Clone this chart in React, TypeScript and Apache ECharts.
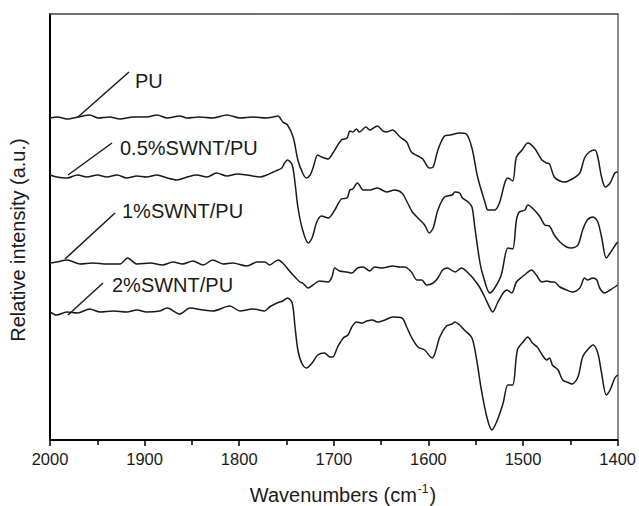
import React, { useEffect, useRef } from "react";
import * as echarts from "echarts";

// FTIR spectra, [wavenumber (cm-1), relative intensity (a.u.)]
const puSpectrum: [number, number][] = [
  [2000, 322], [1992, 323], [1982, 321], [1970, 323], [1958, 325], [1949, 322], [1937, 323],
  [1926, 321], [1912, 323], [1898, 323], [1887, 325], [1876, 322], [1863, 324], [1855, 322],
  [1842, 323], [1828, 322], [1813, 325], [1799, 322], [1786, 323], [1771, 322], [1764, 323],
  [1759, 324], [1754, 318], [1749, 315], [1743, 303], [1738, 280], [1733, 267], [1729, 262],
  [1725, 265], [1722, 272], [1717, 285], [1713, 283], [1706, 281], [1701, 287], [1692, 300],
  [1686, 302], [1683, 309], [1680, 308], [1676, 311], [1673, 308], [1666, 313], [1662, 310],
  [1654, 314], [1648, 309], [1644, 308], [1638, 310], [1630, 303], [1623, 298], [1618, 288],
  [1611, 284], [1606, 281], [1599, 272], [1595, 273], [1590, 290], [1583, 304], [1577, 305],
  [1567, 307], [1560, 306], [1554, 292], [1548, 263], [1540, 237], [1537, 230], [1530, 230],
  [1525, 237], [1519, 258], [1516, 262], [1511, 259], [1507, 283], [1501, 290], [1495, 297],
  [1488, 292], [1480, 280], [1475, 277], [1472, 276], [1467, 263], [1461, 259], [1456, 258],
  [1448, 261], [1440, 267], [1435, 282], [1430, 288], [1424, 290], [1421, 283], [1417, 263],
  [1413, 253], [1408, 257], [1403, 267], [1400, 268],
];

const swnt05Spectrum: [number, number][] = [
  [2000, 265], [1993, 263], [1982, 262], [1971, 265], [1961, 263], [1950, 265], [1940, 263],
  [1929, 265], [1919, 262], [1908, 264], [1898, 263], [1887, 265], [1876, 262], [1866, 260],
  [1855, 263], [1845, 265], [1834, 263], [1824, 267], [1813, 264], [1802, 266], [1792, 265],
  [1778, 263], [1771, 265], [1764, 268], [1759, 270], [1755, 272], [1752, 277], [1749, 280],
  [1744, 275], [1741, 257], [1738, 233], [1733, 210], [1727, 197], [1723, 202], [1718, 218],
  [1713, 224], [1706, 222], [1699, 230], [1692, 241], [1686, 242], [1683, 250], [1680, 251],
  [1675, 257], [1669, 250], [1662, 250], [1654, 252], [1644, 248], [1636, 250], [1628, 247],
  [1622, 237], [1617, 228], [1609, 220], [1604, 215], [1599, 207], [1595, 212], [1590, 230],
  [1583, 243], [1575, 245], [1572, 248], [1567, 247], [1564, 242], [1558, 238], [1554, 233],
  [1551, 213], [1546, 180], [1543, 167], [1535, 147], [1530, 152], [1523, 165], [1516, 192],
  [1511, 191], [1507, 220], [1504, 228], [1498, 230], [1495, 235], [1488, 230], [1482, 223],
  [1477, 215], [1472, 214], [1467, 205], [1461, 198], [1454, 193], [1449, 192], [1442, 195],
  [1437, 210], [1432, 220], [1426, 223], [1421, 218], [1417, 203], [1412, 182], [1408, 187],
  [1401, 197], [1400, 198],
];

const swnt1Spectrum: [number, number][] = [
  [2000, 177], [1993, 178], [1982, 180], [1968, 176], [1955, 177], [1940, 176], [1926, 176],
  [1918, 182], [1908, 176], [1894, 177], [1881, 175], [1870, 178], [1860, 176], [1849, 179],
  [1838, 175], [1828, 180], [1817, 176], [1807, 177], [1792, 174], [1781, 178], [1773, 178],
  [1768, 175], [1759, 180], [1754, 177], [1746, 168], [1741, 163], [1736, 158], [1733, 157],
  [1727, 152], [1722, 155], [1715, 159], [1706, 158], [1702, 163], [1699, 172], [1694, 169],
  [1686, 168], [1681, 167], [1675, 172], [1669, 173], [1662, 169], [1657, 173], [1649, 172],
  [1638, 174], [1630, 173], [1625, 173], [1618, 168], [1612, 160], [1607, 160], [1602, 155],
  [1595, 157], [1590, 162], [1585, 170], [1580, 172], [1572, 168], [1565, 172], [1558, 167],
  [1553, 162], [1546, 153], [1540, 142], [1535, 132], [1532, 128], [1527, 137], [1521, 147],
  [1517, 150], [1512, 147], [1507, 158], [1501, 163], [1496, 167], [1491, 170], [1486, 165],
  [1480, 158], [1475, 159], [1470, 158], [1467, 158], [1461, 153], [1454, 150], [1448, 148],
  [1440, 152], [1435, 162], [1432, 160], [1426, 162], [1422, 160], [1419, 152], [1414, 147],
  [1408, 150], [1400, 155],
];

const swnt2Spectrum: [number, number][] = [
  [2000, 128], [1993, 125], [1982, 128], [1971, 127], [1958, 131], [1947, 128], [1933, 129],
  [1919, 128], [1908, 130], [1898, 128], [1884, 129], [1876, 132], [1863, 126], [1852, 132],
  [1838, 130], [1828, 129], [1810, 134], [1799, 129], [1786, 131], [1773, 129], [1768, 133],
  [1760, 137], [1754, 139], [1749, 142], [1744, 137], [1741, 113], [1738, 90], [1734, 77],
  [1729, 72], [1723, 77], [1717, 85], [1710, 87], [1704, 83], [1701, 83], [1696, 93],
  [1690, 102], [1685, 105], [1681, 113], [1676, 118], [1670, 117], [1665, 119], [1659, 120],
  [1654, 118], [1646, 120], [1638, 123], [1628, 122], [1623, 113], [1618, 103], [1611, 93],
  [1604, 90], [1596, 82], [1593, 87], [1588, 103], [1581, 114], [1575, 116], [1572, 118],
  [1567, 115], [1562, 110], [1554, 102], [1549, 80], [1544, 50], [1538, 22], [1533, 10],
  [1528, 18], [1521, 37], [1516, 55], [1511, 55], [1506, 90], [1500, 98], [1495, 103],
  [1490, 97], [1485, 93], [1479, 84], [1475, 80], [1472, 82], [1469, 75], [1463, 70],
  [1458, 60], [1451, 57], [1448, 56], [1442, 63], [1437, 83], [1432, 90], [1426, 95],
  [1421, 87], [1417, 67], [1412, 45], [1408, 50], [1403, 62], [1400, 65],
];

const seriesNames = ["PU", "0.5%SWNT/PU", "1%SWNT/PU", "2%SWNT/PU"];
const spectra = [puSpectrum, swnt05Spectrum, swnt1Spectrum, swnt2Spectrum];

const FONT = "'Liberation Sans', Arial, Helvetica, sans-serif";
const INK = "#1a1a1a";

// Leader line + caption for each spectrum
const captions = [
  { line: [78, 117, 129, 72], x: 135, y: 81 },
  { line: [68, 175, 112, 143], x: 120, y: 148 },
  { line: [65, 259, 115, 213], x: 122, y: 211 },
  { line: [68, 315, 103, 283], x: 112, y: 285 },
];

export default function App() {
  const ref = useRef<HTMLDivElement>(null);

  useEffect(() => {
    if (!ref.current) return;
    const chart = echarts.init(ref.current, null, { renderer: "svg" });

    const graphics: any[] = [];
    captions.forEach((c, i) => {
      graphics.push({
        type: "line",
        shape: { x1: c.line[0], y1: c.line[1], x2: c.line[2], y2: c.line[3] },
        style: { stroke: INK, lineWidth: 1.5 },
        silent: true,
      });
      graphics.push({
        type: "text",
        x: c.x,
        y: c.y,
        style: {
          text: seriesNames[i],
          fontFamily: FONT,
          fontSize: 20,
          fill: INK,
          verticalAlign: "middle",
        },
        silent: true,
      });
    });
    // y-axis title
    graphics.push({
      type: "text",
      x: 18,
      y: 240,
      rotation: Math.PI / 2,
      style: {
        text: "Relative intensity (a.u.)",
        fontFamily: FONT,
        fontSize: 20,
        fill: INK,
        align: "center",
        verticalAlign: "middle",
      },
      silent: true,
    });
    // x-axis title with superscript
    graphics.push({
      type: "text",
      x: 343,
      y: 494,
      style: {
        text: "{a|Wavenumbers (cm}{s|-1}{a|)}",
        align: "center",
        verticalAlign: "middle",
        rich: {
          a: { fontFamily: FONT, fontSize: 20, fill: INK, color: INK, verticalAlign: "bottom" },
          s: {
            fontFamily: FONT,
            fontSize: 12,
            fill: INK,
            color: INK,
            verticalAlign: "top",
            padding: [0, 1, 10, 1],
          },
        },
      },
      silent: true,
    });

    chart.setOption({
      animation: false,
      backgroundColor: "#ffffff",
      grid: { left: 50, right: 21, top: 14, bottom: 66, containLabel: false },
      xAxis: [
        {
          type: "value",
          min: 1400,
          max: 2000,
          interval: 100,
          inverse: true,
          position: "bottom",
          axisLine: { show: true, onZero: false, lineStyle: { color: "#000", width: 2 } },
          axisTick: { show: true, inside: false, length: 6, lineStyle: { color: "#000", width: 1.5 } },
          minorTick: { show: true, splitNumber: 2, length: 5, lineStyle: { color: "#000", width: 1.5 } },
          axisLabel: {
            color: INK,
            fontFamily: FONT,
            fontSize: 16.5,
            margin: 10,
            formatter: (v: number) => String(v),
          },
          splitLine: { show: false },
        },
        {
          type: "value",
          min: 1400,
          max: 2000,
          inverse: true,
          position: "top",
          axisLine: { show: true, onZero: false, lineStyle: { color: "#444", width: 1.5 } },
          axisTick: { show: false },
          axisLabel: { show: false },
          splitLine: { show: false },
        },
      ],
      yAxis: [
        {
          type: "value",
          min: 0,
          max: 426,
          position: "left",
          axisLine: { show: true, onZero: false, lineStyle: { color: "#000", width: 2 } },
          axisTick: { show: false },
          axisLabel: { show: false },
          splitLine: { show: false },
        },
        {
          type: "value",
          min: 0,
          max: 426,
          position: "right",
          axisLine: { show: true, onZero: false, lineStyle: { color: "#8a8a8a", width: 2 } },
          axisTick: { show: false },
          axisLabel: { show: false },
          splitLine: { show: false },
        },
      ],
      series: spectra.map((d, i) => ({
        name: seriesNames[i],
        type: "line",
        xAxisIndex: 0,
        yAxisIndex: 0,
        data: d,
        showSymbol: false,
        smooth: 0.3,
        lineStyle: { color: INK, width: 1.5 },
        silent: true,
      })),
      graphic: graphics,
    });

    return () => chart.dispose();
  }, []);

  return (
    <div
      ref={ref}
      style={{ position: "fixed", left: 0, top: 0, width: 639, height: 506, background: "#fff" }}
    />
  );
}
